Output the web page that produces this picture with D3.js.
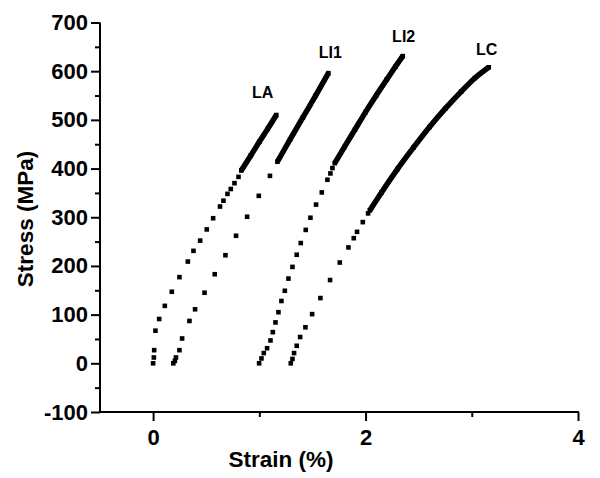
<!DOCTYPE html>
<html>
<head>
<meta charset="utf-8">
<script src="https://cdn.jsdelivr.net/npm/d3@7"></script>
<style>
  html, body { margin: 0; padding: 0; background: #fff; }
  svg { display: block; }
  text { font-family: "Liberation Sans", Arial, sans-serif; font-weight: bold; fill: #000; }
</style>
</head>
<body>
<svg id="chart" width="600" height="478"></svg>
<script>
// ---- Data ----
const seriesNames = ["LA", "LI1", "LI2", "LC"];

// Sparse (individually visible) points
const strainLA = [0, 0.007, 0.01, 0.022, 0.057, 0.11, 0.176, 0.248, 0.327, 0.38, 0.443, 0.505, 0.565, 0.63, 0.662, 0.70, 0.731, 0.766, 0.804];
const stressLA = [0, 12, 27, 67, 91, 118, 147, 177, 209, 231, 252, 275, 298, 322, 334, 348, 358, 370, 383];
const strainLI1 = [0.19, 0.205, 0.215, 0.248, 0.273, 0.342, 0.395, 0.484, 0.58, 0.681, 0.781, 0.885, 0.995, 1.10];
const stressLI1 = [0, 5, 12, 27, 51, 87, 111, 145, 183, 222, 262, 301, 344, 385];
const strainLI2 = [0.998, 1.02, 1.042, 1.073, 1.105, 1.127, 1.152, 1.18, 1.208, 1.24, 1.274, 1.312, 1.352, 1.39, 1.437, 1.481, 1.534, 1.588, 1.641, 1.669, 1.688];
const stressLI2 = [0, 10, 21, 31, 47, 64, 84, 105, 128, 149, 174, 198, 223, 247, 274, 299, 326, 351, 377, 390, 401];
const strainLC = [1.296, 1.312, 1.327, 1.352, 1.384, 1.434, 1.497, 1.575, 1.666, 1.757, 1.839, 1.889, 1.92, 1.974, 2.024];
const stressLC = [0, 9, 21, 36, 54, 74, 101, 134, 171, 207, 238, 257, 270, 290, 308];

// Densely sampled parts (points so close they merge into a thick band)
const denseStrainLA = [0.83, 0.92, 1.00, 1.08, 1.16];
const denseStressLA = [396, 427, 455, 482, 510];
const denseStrainLI1 = [1.17, 1.29, 1.41, 1.53, 1.65];
const denseStressLI1 = [414, 460, 505, 550, 596];
const denseStrainLI2 = [1.71, 1.80, 1.90, 2.00, 2.10, 2.20, 2.28, 2.35];
const denseStressLI2 = [411, 444, 480, 516, 550, 583, 609, 631];
const denseStrainLC = [2.04, 2.15, 2.30, 2.45, 2.60, 2.75, 2.90, 3.03, 3.16];
const denseStressLC = [314, 351, 399, 443, 485, 523, 558, 586, 608];

// Label anchors (data units)
const labelStrain = [0.93, 1.56, 2.25, 3.04];
const labelStress = [544, 628, 660, 633];

const xMajorTicks = [0, 2, 4];
const xMinorTicks = [1, 3];
const yMajorTicks = [-100, 0, 100, 200, 300, 400, 500, 600, 700];
const yMinorTicks = [-50, 50, 150, 250, 350, 450, 550, 650];

// ---- Layout ----
const svg = d3.select("#chart");
const x = d3.scaleLinear().domain([-0.5, 4]).range([100, 578]);
const y = d3.scaleLinear().domain([-100, 700]).range([412, 22.5]);

const sparse = [
  [strainLA, stressLA], [strainLI1, stressLI1], [strainLI2, stressLI2], [strainLC, stressLC]
].map(([s, t]) => s.map((v, i) => ({ x: v, y: t[i] })));
const dense = [
  [denseStrainLA, denseStressLA], [denseStrainLI1, denseStressLI1],
  [denseStrainLI2, denseStressLI2], [denseStrainLC, denseStressLC]
].map(([s, t]) => s.map((v, i) => ({ x: v, y: t[i] })));

// Axes
const fontSize = 22;
const fmt = d => String(d).replace("\u2212", "-");
const xAxis = svg.append("g").attr("transform", `translate(0,${y(-100)})`)
  .call(d3.axisBottom(x).tickValues(xMajorTicks).tickSize(9).tickPadding(8).tickFormat(fmt));
const xMinor = svg.append("g").attr("transform", `translate(0,${y(-100)})`)
  .call(d3.axisBottom(x).tickValues(xMinorTicks).tickSize(5).tickFormat(""));
const yAxis = svg.append("g").attr("transform", `translate(${x(-0.5)},0)`)
  .call(d3.axisLeft(y).tickValues(yMajorTicks).tickSize(9).tickPadding(3).tickFormat(fmt));
const yMinor = svg.append("g").attr("transform", `translate(${x(-0.5)},0)`)
  .call(d3.axisLeft(y).tickValues(yMinorTicks).tickSize(5).tickFormat(""));

[xAxis, xMinor, yAxis, yMinor].forEach(g => {
  g.selectAll("path.domain").attr("stroke", "#000").attr("stroke-width", 2);
  g.selectAll(".tick line").attr("stroke", "#000").attr("stroke-width", 2);
  g.selectAll(".tick text").style("font-size", fontSize + "px").style("font-weight", "bold")
    .style("font-family", '"Liberation Sans", Arial, sans-serif').attr("fill", "#000");
});
xMinor.select("path.domain").remove();
yMinor.select("path.domain").remove();
xAxis.select("path.domain").attr("d", `M${x(-0.5) - 1},0H${x(4) + 1}`);
yAxis.select("path.domain").attr("d", `M0,${y(700)}V${y(-100) + 1}`);
xAxis.selectAll(".tick text").attr("dy", "0.71em");

// Axis titles
svg.append("text").attr("x", 281).attr("y", 467).attr("text-anchor", "middle")
  .style("font-size", "22.5px").text("Strain (%)");
svg.append("text").attr("transform", "translate(33,219) rotate(-90)").attr("text-anchor", "middle")
  .style("font-size", "22.5px").text("Stress (MPa)");

// Dense bands
const line = d3.line().x(d => x(d.x)).y(d => y(d.y)).curve(d3.curveCatmullRom);
svg.append("g").selectAll("path").data(dense).join("path")
  .attr("d", line).attr("fill", "none").attr("stroke", "#000")
  .attr("stroke-width", 5.5).attr("stroke-linecap", "butt");

// Square markers
const ms = 4.6;
sparse.concat(dense).forEach(pts => {
  svg.append("g").selectAll("rect").data(pts).join("rect")
    .attr("x", d => x(d.x) - ms / 2).attr("y", d => y(d.y) - ms / 2)
    .attr("width", ms).attr("height", ms).attr("fill", "#000");
});

// Series labels
svg.append("g").selectAll("text").data(seriesNames).join("text")
  .attr("x", (d, i) => x(labelStrain[i])).attr("y", (d, i) => y(labelStress[i]))
  .style("font-size", "16px").text(d => d);
</script>
</body>
</html>
